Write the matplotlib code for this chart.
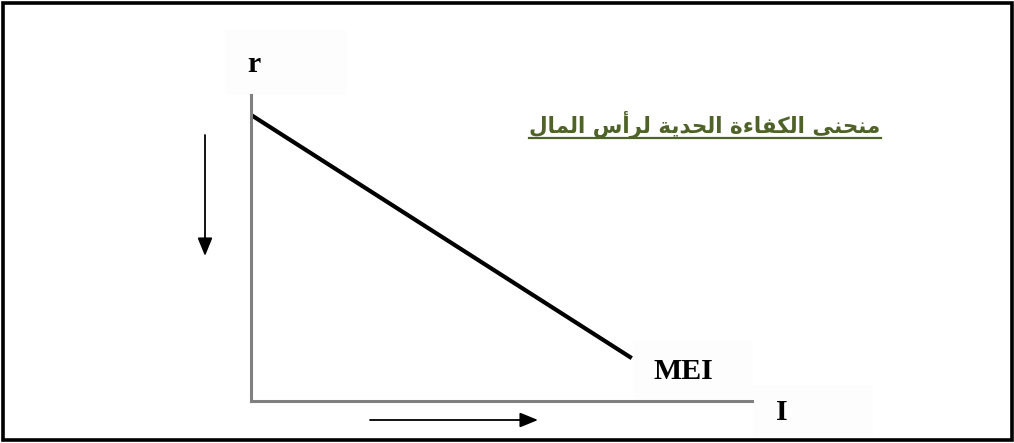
import matplotlib.pyplot as plt
from matplotlib.patches import Rectangle


# MEI curve: interest rate r against investment I
inv_I = [0.0, 7.6]
rate_r = [9.35, 1.4]

TITLE = "منحنى الكفاءة الحدية لرأس المال"
CURVE_LABEL = "MEI"
X_LABEL = "I"
Y_LABEL = "r"

OLIVE = "#4f6228"
AXIS_GRAY = "#808080"

# presentation forms: (isolated, final, initial, medial)
FORMS = {
    "ا": ("\ufe8d", "\ufe8e"),
    "أ": ("\ufe83", "\ufe84"),
    "د": ("\ufea9", "\ufeaa"),
    "ر": ("\ufead", "\ufeae"),
    "ة": ("\ufe93", "\ufe94"),
    "ى": ("\ufeef", "\ufef0"),
    "ء": ("\ufe80",),
    "ل": ("\ufedd", "\ufede", "\ufedf", "\ufee0"),
    "ك": ("\ufed9", "\ufeda", "\ufedb", "\ufedc"),
    "ف": ("\ufed1", "\ufed2", "\ufed3", "\ufed4"),
    "ح": ("\ufea1", "\ufea2", "\ufea3", "\ufea4"),
    "ي": ("\ufef1", "\ufef2", "\ufef3", "\ufef4"),
    "س": ("\ufeb1", "\ufeb2", "\ufeb3", "\ufeb4"),
    "م": ("\ufee1", "\ufee2", "\ufee3", "\ufee4"),
    "ن": ("\ufee5", "\ufee6", "\ufee7", "\ufee8"),
}


def shape_arabic(text):
    # matplotlib has no shaping or bidi, so do it by hand
    words = []
    for word in text.split(" "):
        glyphs = []
        for i, ch in enumerate(word):
            forms = FORMS[ch]
            prev_joins = i > 0 and len(FORMS[word[i - 1]]) == 4 and len(forms) >= 2
            next_joins = (len(forms) == 4 and i + 1 < len(word)
                          and len(FORMS[word[i + 1]]) >= 2)
            if prev_joins and next_joins:
                glyphs.append(forms[3])
            elif prev_joins:
                glyphs.append(forms[1])
            elif next_joins:
                glyphs.append(forms[2])
            else:
                glyphs.append(forms[0])
        words.append("".join(reversed(glyphs)))
    return " ".join(reversed(words))


W, H = 1014, 443
fig = plt.figure(figsize=(W / 100, H / 100), dpi=100)

# overlay in pixel coordinates for frame, arrows and labels
over = fig.add_axes([0, 0, 1, 1])
over.set_xlim(0, W)
over.set_ylim(H, 0)
over.axis("off")

# faint text boxes left over from the original drawing
for x, y, w, h in [(225, 30, 122, 65), (633, 340, 120, 60), (753, 385, 120, 52)]:
    over.add_patch(Rectangle((x, y), w, h, facecolor="#fdfdfd", edgecolor="none"))

over.add_patch(Rectangle((2.5, 2.5), W - 5, H - 6, fill=False,
                         edgecolor="black", linewidth=2.6))

# data axes
ax = fig.add_axes([251 / W, (H - 401) / H, 501 / W, 306 / H])
ax.patch.set_visible(False)
ax.set_xlim(0, 10)
ax.set_ylim(0, 10)
for side in ["top", "right"]:
    ax.spines[side].set_visible(False)
for side in ["left", "bottom"]:
    ax.spines[side].set_color(AXIS_GRAY)
    ax.spines[side].set_linewidth(2.2)
ax.set_xticks([])
ax.set_yticks([])
ax.plot(inv_I, rate_r, color="black", linewidth=3.0, solid_capstyle="butt", clip_on=False)

# direction arrows
arrow = dict(arrowstyle="-|>,head_length=1.1,head_width=0.45", color="black",
             linewidth=1.3, shrinkA=0, shrinkB=0)
over.annotate("", xy=(205, 256), xytext=(205, 135), arrowprops=arrow)
over.annotate("", xy=(538, 420), xytext=(370, 420), arrowprops=arrow)

serif = dict(family="Liberation Serif", fontweight="bold", fontsize=21.5, color="black")
over.text(254, 72, Y_LABEL, ha="center", va="baseline", **serif)
over.text(653, 379, CURVE_LABEL, ha="left", va="baseline", **serif)
over.text(782, 420, X_LABEL, ha="center", va="baseline", **serif)

title = over.text(705, 132, shape_arabic(TITLE), ha="center", va="baseline",
                  family=["DejaVu Sans"], fontweight="bold", fontsize=15.5, color=OLIVE)

# underline the title
fig.canvas.draw()
bb = title.get_window_extent()
over.plot([bb.x0, bb.x1], [138, 138], color=OLIVE, linewidth=1.6)

fig.savefig("out.png", dpi=100)
